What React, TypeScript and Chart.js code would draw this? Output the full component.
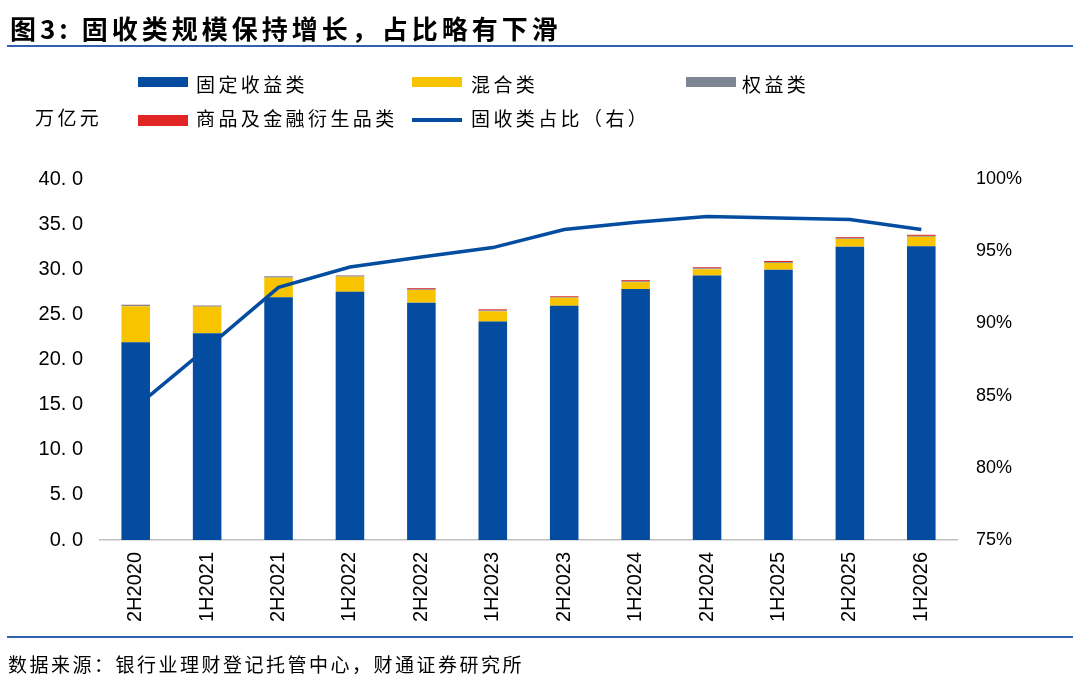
import React, { useEffect, useRef } from "react";
import { Chart, registerables } from "chart.js";

Chart.register(...registerables);

const categories = ["2H2020", "1H2021", "2H2021", "1H2022", "2H2022", "1H2023", "2H2023", "1H2024", "2H2024", "1H2025", "2H2025", "1H2026"];
const fixedIncome = [21.9, 22.9, 26.9, 27.5, 26.3, 24.2, 25.95, 27.8, 29.3, 29.95, 32.5, 32.55];
const mixed = [4.0, 2.95, 2.17, 1.68, 1.4, 1.14, 0.9, 0.77, 0.7, 0.75, 0.85, 1.05];
const equity = [0.15, 0.12, 0.15, 0.12, 0.08, 0.1, 0.08, 0.1, 0.1, 0.1, 0.08, 0.1];
const commodity = [0.02, 0.02, 0.02, 0.03, 0.12, 0.12, 0.08, 0.12, 0.12, 0.12, 0.12, 0.12];
const fixedShare = [84.2, 88.3, 92.5, 93.9, 94.6, 95.25, 96.5, 97.0, 97.4, 97.3, 97.2, 96.5];

const BLUE = "#034C9F";
const YELLOW = "#F8C400";
const GRAY = "#7D8693";
const RED = "#E12424";
const RULE = "#2E62AE";

const CJK = '"Noto Sans CJK SC", "Noto Sans", sans-serif';
const NUM = '"Liberation Sans", Arial, sans-serif';

export default function App() {
  const ref = useRef<HTMLCanvasElement | null>(null);

  useEffect(() => {
    document.body.style.margin = "0";
    if (!ref.current) return;
    const chart = new Chart(ref.current, {
      type: "bar",
      data: {
        labels: categories,
        datasets: [
          { type: "line", label: "固收类占比（右）", data: fixedShare, yAxisID: "y2", borderColor: BLUE, borderWidth: 3.5, pointRadius: 0, tension: 0, order: 0 } as any,
          { label: "固定收益类", data: fixedIncome, backgroundColor: BLUE, yAxisID: "y", stack: "s", order: 1, barPercentage: 0.4, categoryPercentage: 1 },
          { label: "混合类", data: mixed, backgroundColor: YELLOW, yAxisID: "y", stack: "s", order: 1, barPercentage: 0.4, categoryPercentage: 1 },
          { label: "权益类", data: equity, backgroundColor: GRAY, yAxisID: "y", stack: "s", order: 1, barPercentage: 0.4, categoryPercentage: 1 },
          { label: "商品及金融衍生品类", data: commodity, backgroundColor: RED, yAxisID: "y", stack: "s", order: 1, barPercentage: 0.4, categoryPercentage: 1 },
        ],
      },
      options: {
        animation: false,
        responsive: false,
        maintainAspectRatio: false,
        layout: { padding: { top: 179, left: 0, right: 0, bottom: 0 } },
        plugins: { legend: { display: false }, tooltip: { enabled: false }, title: { display: false } },
        scales: {
          x: {
            stacked: true,
            grid: { display: false, drawTicks: false },
            border: { display: true, color: "#BFBFBF", width: 1.5 },
            ticks: { color: "#000", font: { family: NUM, size: 20 }, minRotation: 90, maxRotation: 90, padding: 12, autoSkip: false },
            afterFit: (s: any) => { s.height = 142; },
          },
          y: {
            stacked: true,
            position: "left",
            min: 0,
            max: 40,
            grid: { display: false, drawTicks: false },
            border: { display: false },
            ticks: { stepSize: 5, color: "#000", padding: 17, font: { family: NUM, size: 20 }, callback: (v: any) => Number(v).toFixed(1).replace(".", ". ") },
            afterFit: (s: any) => { s.width = 100; },
          },
          y2: {
            position: "right",
            min: 75,
            max: 100,
            grid: { display: false, drawTicks: false },
            border: { display: false },
            ticks: { stepSize: 5, color: "#000", padding: 19, font: { family: NUM, size: 18 }, callback: (v: any) => `${v}%` },
            afterFit: (s: any) => { s.width = 123; },
          },
        },
      },
    });
    return () => chart.destroy();
  }, []);

  const txt = (left: number, top: number, s: string, extra: React.CSSProperties = {}) => (
    <div style={{ position: "absolute", left, top, fontFamily: CJK, fontSize: 19, lineHeight: "20px", letterSpacing: "3.4px", color: "#000", whiteSpace: "nowrap", ...extra }}>{s}</div>
  );
  const box = (left: number, top: number, w: number, h: number, c: string) => (
    <div style={{ position: "absolute", left, top, width: w, height: h, background: c }} />
  );

  return (
    <div style={{ position: "relative", width: 1080, height: 682, background: "#fff", overflow: "hidden" }}>
      <canvas ref={ref} width={1080} height={682} style={{ position: "absolute", left: 0, top: 0, width: 1080, height: 682 }} />
      <div style={{ position: "absolute", left: 10, top: 14, fontFamily: CJK, fontWeight: 700, fontSize: 26, lineHeight: "28px", letterSpacing: "4px", color: "#000", whiteSpace: "nowrap" }}>图3: 固收类规模保持增长，占比略有下滑</div>
      <div style={{ position: "absolute", left: 7, top: 45, width: 1066, height: 2, background: RULE }} />
      {box(138, 77, 50, 10, BLUE)}
      {txt(196, 74, "固定收益类")}
      {box(412, 77, 50, 10, YELLOW)}
      {txt(471, 74, "混合类")}
      {box(686, 77, 50, 10, GRAY)}
      {txt(742, 74, "权益类")}
      {txt(35, 107, "万亿元")}
      {box(138, 115, 50, 11, RED)}
      {txt(196, 108, "商品及金融衍生品类")}
      {box(412, 118, 50, 4, BLUE)}
      {txt(471, 108, "固收类占比（右）")}
      <div style={{ position: "absolute", left: 7, top: 636, width: 1066, height: 2, background: RULE }} />
      {txt(8, 654, "数据来源：银行业理财登记托管中心，财通证券研究所", { letterSpacing: "2.5px" })}
    </div>
  );
}
